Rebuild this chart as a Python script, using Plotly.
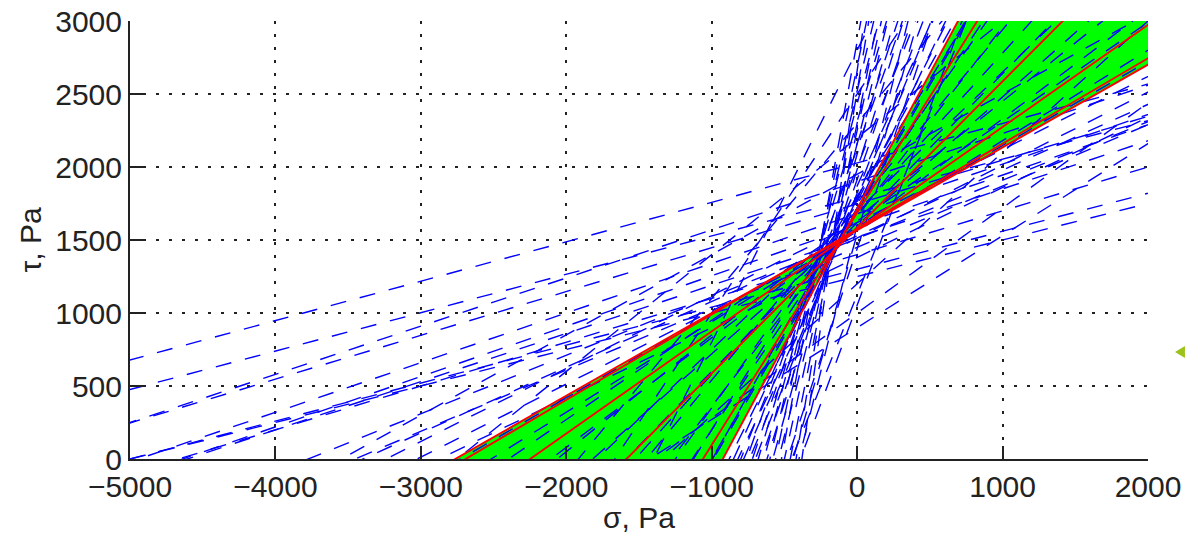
import numpy as np
import plotly.graph_objects as go

# axis ranges and ticks
sigma_range = [-5000, 2000]
tau_range = [0, 3000]
sigma_ticks = [-5000, -4000, -3000, -2000, -1000, 0, 1000, 2000]
tau_ticks = [0, 500, 1000, 1500, 2000, 2500, 3000]

# red Mohr-Coulomb envelopes: tau = c + m * sigma
red_c = [1567, 1575, 1574, 1586, 1686, 1713]
red_m = [0.567, 0.585, 0.70, 1.00, 1.59, 1.855]

# blue dashed envelopes (tau = c + m * sigma)
blue_shallow_c = [2028, 1791, 1747, 1300, 1520, 1510, 1529, 1513, 1600, 1450,
                  1680, 1400, 1900, 1620, 1380, 1250, 1571, 1950]
blue_shallow_m = [0.27, 0.263, 0.30, 0.26, 0.33, 0.40, 0.45, 0.50, 0.345, 0.42,
                  0.34, 0.30, 0.33, 0.50, 0.48, 0.25, 0.576, 0.55]

blue_mid_c = [1560, 1630, 1580, 1650, 1600, 1700, 1620, 1680, 1740, 1660,
              1750, 1700, 1800, 1720, 1790, 1700, 2800, 900, 1000, 1200,
              2500, 2300, 2200]
blue_mid_m = [0.62, 0.68, 0.75, 0.80, 0.88, 0.95, 1.02, 1.10, 1.20, 1.30,
              1.40, 1.50, 1.60, 1.72, 1.80, 1.72, 2.0, 0.63, 0.72, 0.90,
              1.5, 1.2, 0.8]

blue_steep_c = [1760, 1870, 1722, 2000, 1794, 2128, 1776, 2160, 1820, 2312,
                1914, 2432, 1984, 2520, 2088, 2688, 2160, 2860, 2250, 1440,
                2300, 1540, 2520, 1600, 1053, 1125, 2660]
blue_steep_m = [2.0, 2.2, 2.1, 2.5, 2.3, 2.8, 2.4, 3.0, 2.6, 3.4,
                2.9, 3.8, 3.2, 4.2, 3.6, 4.8, 4.0, 5.5, 4.5, 3.0,
                5.0, 3.5, 6.0, 4.0, 2.7, 2.5, 7.0]

x_ext = np.array([-8000.0, 4000.0])

fig = go.Figure()

# green band between the shallowest and steepest red envelopes
i_lo = int(np.argmin(red_m))
i_hi = int(np.argmax(red_m))
c1, m1 = red_c[i_lo], red_m[i_lo]
c2, m2 = red_c[i_hi], red_m[i_hi]
xc = (c2 - c1) / (m1 - m2)
yc = c1 + m1 * xc
x0, x1 = x_ext
poly_x = [x0, xc, x1, x1, xc, x0, x0]
poly_y = [c1 + m1 * x0, yc, c2 + m2 * x1, c1 + m1 * x1, yc, c2 + m2 * x0, c1 + m1 * x0]
fig.add_trace(go.Scatter(x=poly_x, y=poly_y, mode="lines", fill="toself",
                         fillcolor="#00FF00", line=dict(width=0), hoverinfo="skip",
                         showlegend=False))

# blue dashed lines
blue_c = blue_shallow_c + blue_mid_c + blue_steep_c
blue_m = blue_shallow_m + blue_mid_m + blue_steep_m
for c, m in zip(blue_c, blue_m):
    fig.add_trace(go.Scatter(x=x_ext, y=c + m * x_ext, mode="lines",
                             line=dict(color="#0000FF", width=1.4, dash="16px,14px"),
                             hoverinfo="skip", showlegend=False))

# red lines
for c, m in zip(red_c, red_m):
    fig.add_trace(go.Scatter(x=x_ext, y=c + m * x_ext, mode="lines",
                             line=dict(color="#FF0000", width=1.9),
                             hoverinfo="skip", showlegend=False))

font_family = "Liberation Sans, Arial, sans-serif"
axis_common = dict(
    showline=True, linecolor="#222", linewidth=2, mirror=False,
    ticks="inside", ticklen=13, tickwidth=2, tickcolor="#222",
    showgrid=True, gridcolor="#222", gridwidth=1.5, griddash="3px,10px",
    zeroline=False, automargin=False, ticklabeloverflow="allow",
    tickfont=dict(family=font_family, size=30, color="#222"),
)

fig.update_layout(
    width=1185, height=534,
    margin=dict(l=130, r=37, t=21, b=75),
    paper_bgcolor="white", plot_bgcolor="white",
    showlegend=False,
    xaxis=dict(range=sigma_range, tickvals=sigma_ticks,
               title=dict(text="σ, Pa", font=dict(family=font_family, size=30, color="#222"),
                          standoff=2),
               **axis_common),
    yaxis=dict(range=tau_range, tickvals=tau_ticks,
               title=dict(text="τ, Pa", font=dict(family=font_family, size=30, color="#222"),
                          standoff=5),
               **axis_common),
    shapes=[dict(type="path", xref="paper", yref="paper",
                 path="M 1.0265,0.2443 L 1.0363,0.258 L 1.0363,0.2306 Z",
                 fillcolor="#9BC31A", line=dict(width=0))],
)

# remove the browser's default page margin so the figure fills the window exactly
fig.write_html(
    "out.html",
    config={"displayModeBar": False},
    post_script="document.body.style.margin='0px';"
                "document.body.style.overflow='hidden';"
                "document.documentElement.style.overflow='hidden';",
)
